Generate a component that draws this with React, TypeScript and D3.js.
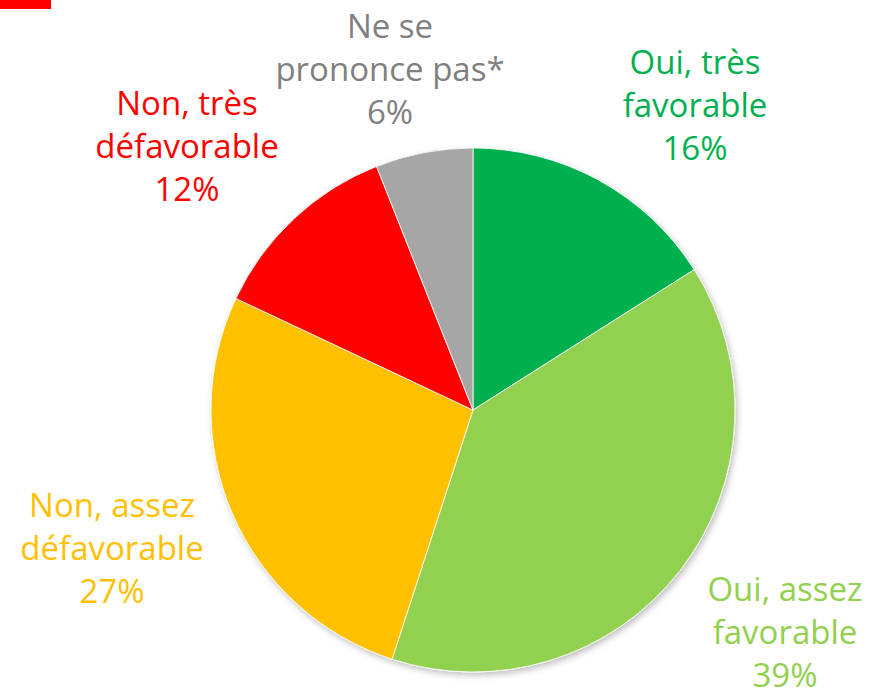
import React from "react";
import * as d3 from "d3";

const categories = ["Oui, très favorable", "Oui, assez favorable", "Non, assez défavorable", "Non, très défavorable", "Ne se prononce pas*"];
const values = [16, 39, 27, 12, 6];
const labelLines = [
  ["Oui, très", "favorable", "16%"],
  ["Oui, assez", "favorable", "39%"],
  ["Non, assez", "défavorable", "27%"],
  ["Non, très", "défavorable", "12%"],
  ["Ne se", "prononce pas*", "6%"],
];
const colors = ["#00B050", "#92D050", "#FFC000", "#FF0000", "#A6A6A6"];
const textColors = ["#00B050", "#92D050", "#FFC000", "#FF0000", "#808080"];
const labelPos: [number, number][] = [
  [695, 62],
  [785, 589],
  [112, 505],
  [187, 103],
  [390, 26],
];

export default function App() {
  const W = 872, H = 688;
  const cx = 473, cy = 410, r = 262;
  const pie = d3.pie<number>().sort(null).value((d) => d);
  const arcs = pie(values);
  const arc = d3.arc<d3.PieArcDatum<number>>().innerRadius(0).outerRadius(r);
  const lh = 43;
  return (
    <svg width={W} height={H} style={{ position: "absolute", left: 0, top: 0 }}>
      <defs>
        <filter id="sh" x="-20%" y="-20%" width="140%" height="140%">
          <feDropShadow dx="2" dy="3" stdDeviation="3" floodColor="#000" floodOpacity="0.25" />
        </filter>
      </defs>
      <rect x={0} y={0} width={51} height={9} fill="#FF0000" />
      <g transform={`translate(${cx},${cy})`} filter="url(#sh)">
        {arcs.map((a, i) => (
          <path key={categories[i]} d={arc(a) || ""} fill={colors[i]} stroke="#fff" strokeWidth={0.8} />
        ))}
      </g>
      {labelLines.map((lines, i) => (
        <text key={i} textAnchor="middle" fill={textColors[i]} fontFamily="'Open Sans', sans-serif" fontSize={33}>
          {lines.map((l, j) => (
            <tspan key={j} x={labelPos[i][0]} y={labelPos[i][1] + j * lh} dy="0.35em">{l}</tspan>
          ))}
        </text>
      ))}
    </svg>
  );
}
